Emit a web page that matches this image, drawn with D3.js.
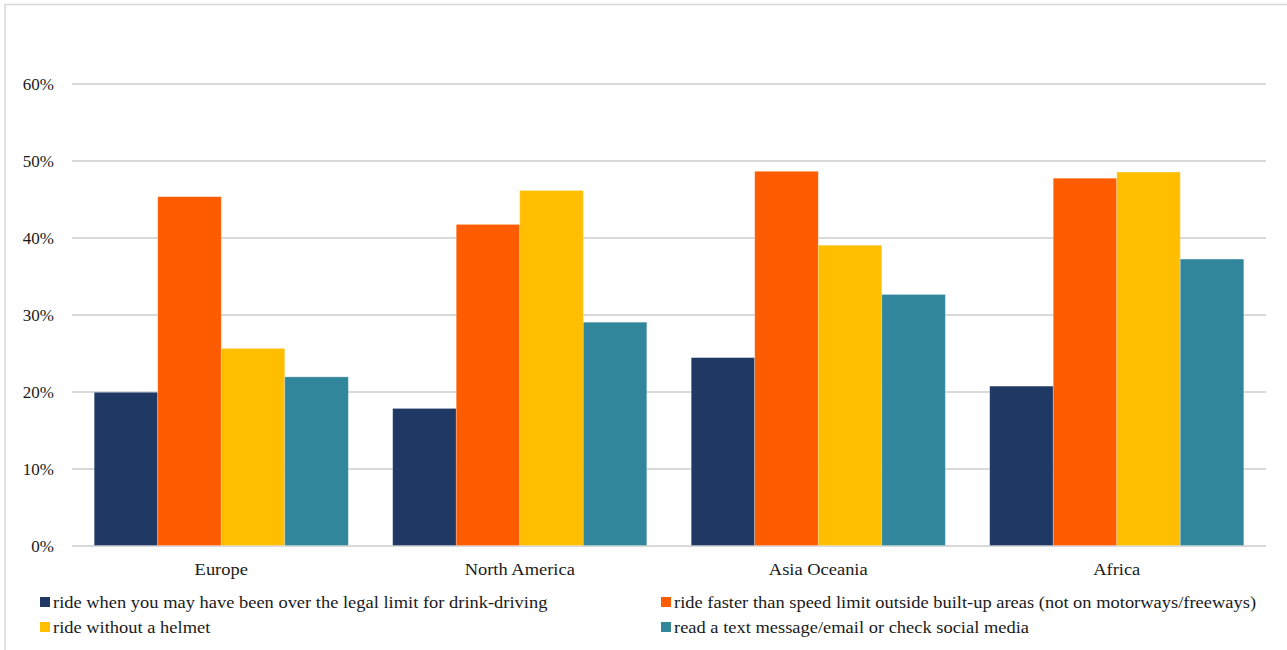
<!DOCTYPE html>
<html>
<head>
<meta charset="utf-8">
<script src="https://cdn.jsdelivr.net/npm/d3@7"></script>
<style>
  html, body { margin: 0; padding: 0; background: #fff; }
  svg { display: block; }
  text { font-family: "Liberation Serif", "Times New Roman", serif; fill: #1a1a1a; }
</style>
</head>
<body>
<svg id="chart" width="1287" height="650"></svg>
<script>
const categories = ["Europe", "North America", "Asia Oceania", "Africa"];
const seriesNames = [
  "ride when you may have been over the legal limit for drink-driving",
  "ride faster than speed limit outside built-up areas (not on motorways/freeways)",
  "ride without a helmet",
  "read a text message/email or check social media"
];
const drinkDriving = [19.9, 17.8, 24.4, 20.7];
const speeding = [45.3, 41.7, 48.6, 47.7];
const noHelmet = [25.6, 46.1, 39.0, 48.5];
const textMessage = [21.9, 29.0, 32.6, 37.2];
const yTicks = [0, 10, 20, 30, 40, 50, 60];
const colors = ["#203864", "#FF5B00", "#FFBE00", "#31869B"];

const seriesValues = [drinkDriving, speeding, noHelmet, textMessage];
const stretch = 1.086;

const svg = d3.select("#chart");

// chart border
svg.append("rect")
  .attr("x", 5).attr("y", 4.5)
  .attr("width", 1300).attr("height", 700)
  .attr("fill", "none")
  .attr("stroke", "#d9d9d9")
  .attr("stroke-width", 1.5);

const plot = { left: 72, right: 1266, top: 30, bottom: 545.5 };

const y = d3.scaleLinear().domain([0, 67]).range([plot.bottom, plot.bottom - 67 * 7.7]);
const x0 = d3.scaleBand().domain(categories).range([plot.left, plot.right]).paddingInner(0).paddingOuter(0);
const innerPad = 22.2;
const x1 = d3.scaleBand().domain(d3.range(seriesNames.length))
  .range([innerPad, x0.bandwidth() - innerPad]).padding(0);

// gridlines
const yAxis = d3.axisLeft(y).tickValues(yTicks)
  .tickSize(-(plot.right - plot.left))
  .tickFormat(d => d + "%")
  .tickPadding(18);
const gy = svg.append("g").attr("transform", `translate(${plot.left},0)`).call(yAxis);
gy.select(".domain").remove();
gy.selectAll(".tick line").attr("stroke", "#d9d9d9").attr("stroke-width", 2);
gy.selectAll(".tick text")
  .attr("font-size", "17px")
  .attr("fill", "#1a1a1a")
  .attr("font-family", "Liberation Serif, serif")
  .attr("dy", "0.36em");

// bars
const groups = svg.append("g").selectAll("g")
  .data(categories)
  .join("g")
  .attr("transform", d => `translate(${x0(d)},0)`);

groups.selectAll("rect")
  .data((d, i) => seriesValues.map((vals, s) => ({ s, v: vals[i] })))
  .join("rect")
  .attr("x", d => x1(d.s))
  .attr("width", x1.bandwidth())
  .attr("y", d => y(d.v))
  .attr("height", d => y(0) - y(d.v))
  .attr("fill", d => colors[d.s])
  .attr("stroke", "#ffffff")
  .attr("stroke-opacity", 0.35)
  .attr("stroke-width", 0.75);

// x axis labels
const xAxis = d3.axisBottom(x0).tickSize(0).tickPadding(0);
const gx = svg.append("g").attr("transform", `translate(0,${plot.bottom})`).call(xAxis);
gx.select(".domain").remove();
gx.selectAll(".tick text")
  .attr("font-size", "17px")
  .attr("fill", "#1a1a1a")
  .attr("font-family", "Liberation Serif, serif")
  .attr("y", 0)
  .attr("dy", 0)
  .attr("transform", `translate(0,29) scale(${stretch},1)`);

// legend
const legendPos = [
  { x: 40, y: 597 },
  { x: 661, y: 597 },
  { x: 40, y: 622 },
  { x: 661, y: 622 }
];
const legend = svg.append("g").selectAll("g")
  .data(seriesNames)
  .join("g")
  .attr("transform", (d, i) => `translate(${legendPos[i].x},${legendPos[i].y})`);
legend.append("rect")
  .attr("width", 10).attr("height", 10)
  .attr("fill", (d, i) => colors[i]);
legend.append("text")
  .attr("transform", `translate(13,11) scale(${stretch},1)`)
  .attr("font-size", "17px")
  .text(d => d);
</script>
</body>
</html>
